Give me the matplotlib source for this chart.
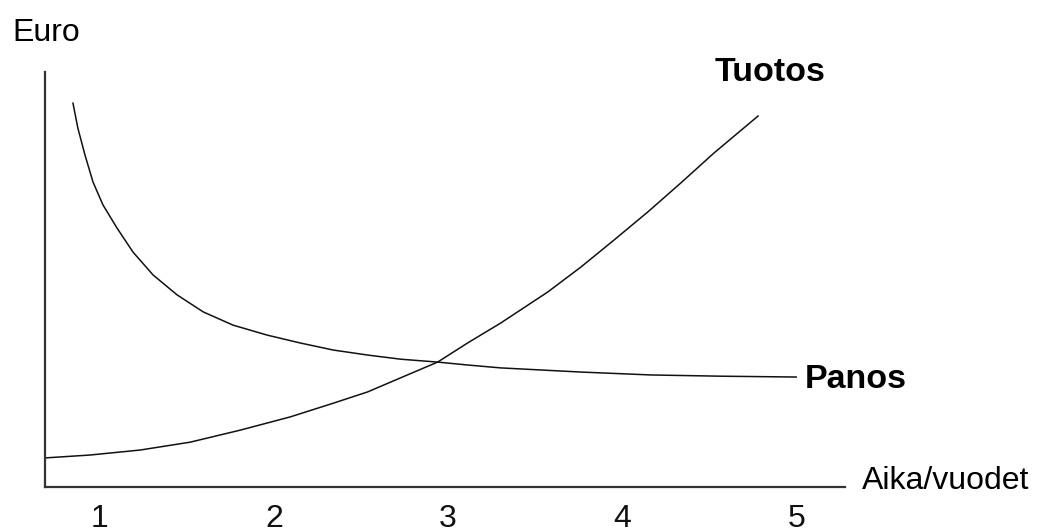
import numpy as np
import matplotlib
matplotlib.use('Agg')
import matplotlib.pyplot as plt

plt.rcParams['font.family'] = ['Liberation Sans', 'DejaVu Sans']

# Panos (input cost) curve
panos_x = [0.845, 0.873, 0.914, 0.960, 1.017, 1.098, 1.190, 1.305, 1.443,
           1.593, 1.765, 1.961, 2.151, 2.341, 2.537, 2.727, 2.940, 3.112,
           3.302, 3.763, 4.165, 4.568, 5.000]
panos_y = [92.5, 86.5, 80.0, 73.5, 68.0, 62.4, 56.6, 51.1, 46.3,
           42.2, 39.0, 36.6, 34.7, 33.0, 31.8, 30.8, 30.1, 29.4,
           28.7, 27.7, 27.0, 26.7, 26.5]

# Tuotos (output) curve
tuotos_x = [0.683, 0.942, 1.230, 1.518, 1.806, 2.094, 2.341, 2.537, 2.727,
            2.940, 3.112, 3.302, 3.573, 3.763, 3.953, 4.148, 4.338, 4.528,
            4.781]
tuotos_y = [7.0, 7.7, 8.9, 10.8, 13.7, 16.9, 20.2, 22.9, 26.3,
            30.1, 34.7, 39.5, 47.0, 53.0, 59.5, 66.3, 73.3, 80.5,
            89.4]

years = [1, 2, 3, 4, 5]

fig = plt.figure(figsize=(10.43, 5.32), dpi=100)
ax = fig.add_axes([0.0431, 0.0846, 0.767, 0.780])

ax.plot(panos_x, panos_y, color='#111111', lw=1.1, solid_joinstyle='round')
ax.plot(tuotos_x, tuotos_y, color='#111111', lw=1.1, solid_joinstyle='round')

ax.set_xlim(0.684, 5.28)
ax.set_ylim(0, 100)

for s in ['top', 'right']:
    ax.spines[s].set_visible(False)
for s in ['left', 'bottom']:
    ax.spines[s].set_color('#333333')
    ax.spines[s].set_linewidth(1.6)

ax.set_xticks(years)
ax.set_xticklabels([str(y) for y in years])
ax.set_yticks([])
ax.tick_params(axis='x', length=0, pad=12, labelsize=23, labelcolor='#111111')

ax.text(4.534, 100, 'Tuotos', fontsize=24.5, fontweight='bold',
        va='center', ha='left', clip_on=False)
ax.text(5.052, 25.8, 'Panos', fontsize=24.5, fontweight='bold',
        va='center', ha='left', clip_on=False)
ax.text(5.379, 1.4, 'Aika/vuodet', fontsize=23,
        va='center', ha='left', clip_on=False)
fig.text(12 / 1043, 1 - 33 / 532, 'Euro', fontsize=23, va='center', ha='left')

fig.savefig('out.png', dpi=100)
